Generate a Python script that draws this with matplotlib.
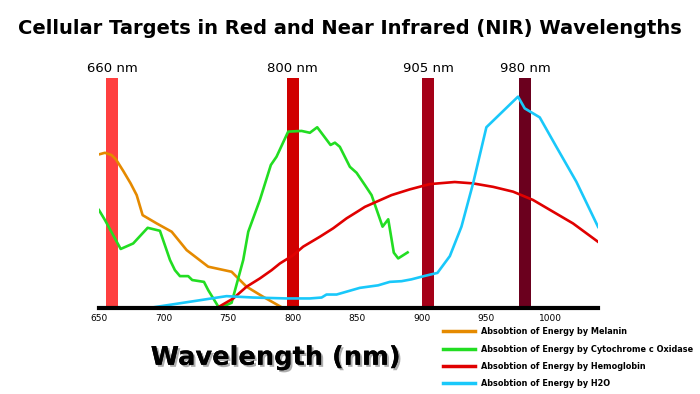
import numpy as np
import matplotlib.pyplot as plt
import matplotlib.patheffects as pe
from matplotlib.lines import Line2D

# wavelengths of the laser bands and their colours
band_nm = [660, 800, 905, 980]
band_colors = ['#ff4040', '#d00000', '#a50018', '#6b001e']

# absorption curves (relative units, band top = 100)
mel_x = [650, 654.6, 659.8, 663.2, 668.8, 674.5, 679.2, 683.8, 694.7, 706.3,
         717.9, 734.6, 752.7, 756.6, 764.3, 777.2, 792.6]
mel_y = [66.8, 67.5, 66.5, 64.6, 59.6, 54.2, 49.1, 40.4, 36.8, 33.2,
         25.2, 18.0, 15.8, 13.6, 9.3, 4.9, 0]

cyt_x = [650, 654.6, 666.8, 676.5, 687.7, 697.2, 705, 708.8, 712.7, 719.1,
         722.2, 731.3, 734.6, 743.1, 752.7, 761.7, 765.6, 774.6, 783.1, 787.5,
         796.5, 806.9, 813.3, 819, 829.3, 832.7, 836.5, 844.3, 849.5, 855.9,
         861.1, 869.6, 874, 878.3, 881.7, 889]
cyt_y = [42.6, 38.3, 25.7, 28.1, 34.9, 33.6, 20.9, 16.5, 13.9, 13.9,
         12.2, 11.4, 7.8, 0, 2.3, 20.9, 33.2, 47, 62.2, 65.8,
         76.7, 77, 76.2, 78.6, 70.9, 71.9, 70.1, 61.4, 58.8, 53.5,
         49.1, 35.4, 38.6, 24.1, 21.6, 24.2]

hem_x = [741.1, 754, 764.3, 774.6, 783.7, 790.1, 800.4, 808.1, 821, 831.4,
         841.7, 852, 855.9, 876.5, 890.7, 906.2, 925.5, 939.7, 955.2, 970.7,
         986.1, 1001.6, 1017.1, 1036.5]
hem_y = [0, 4.2, 9.3, 12.9, 16.5, 19.4, 23, 26.7, 31, 34.7,
         39, 42.6, 44, 49.1, 51.6, 53.9, 54.8, 54.2, 52.7, 50.6,
         47, 41.9, 36.8, 28.8]

h2o_x = [650, 688.2, 748.8, 769.4, 795.3, 813.3, 822.4, 826.2, 834, 852,
         866.2, 875.2, 884.3, 892, 902.3, 912.1, 921.7, 930.7, 939.7, 950,
         974.5, 979.7, 991.3, 1004.2, 1019.7, 1036.5]
h2o_y = [0, 0, 5.2, 4.6, 4.2, 4.2, 4.6, 5.9, 5.9, 8.8,
         9.9, 11.4, 11.7, 12.5, 14, 15.3, 22.6, 35.4, 54.2, 78.6,
         91.9, 86.8, 82.9, 70.1, 54.9, 35.3]

series = [
    (mel_x, mel_y, '#e58a00', 'Absobtion of Energy by Melanin'),
    (cyt_x, cyt_y, '#22dd22', 'Absobtion of Energy by Cytochrome c Oxidase'),
    (hem_x, hem_y, '#e00000', 'Absobtion of Energy by Hemoglobin'),
    (h2o_x, h2o_y, '#19c8fa', 'Absobtion of Energy by H2O'),
]

fig = plt.figure(figsize=(7, 3.94), dpi=100)
ax = fig.add_axes([0.1414, 0.218, 0.713, 0.584])

for nm, c in zip(band_nm, band_colors):
    ax.bar(nm, 100, width=9.5, color=c, zorder=1)
    ax.text(nm, 101.5, f'{nm} nm', ha='center', va='bottom', fontsize=9.5,
            clip_on=False)

for xs, ys, c, lab in series:
    ax.plot(xs, ys, color=c, lw=1.9, zorder=3, solid_joinstyle='round')

ax.set_xlim(650, 1036.5)
ax.set_ylim(0, 100)
ax.set_xticks([650, 700, 750, 800, 850, 900, 950, 1000])
ax.tick_params(axis='x', length=0, labelsize=6.5, pad=4)
ax.set_yticks([])
for s in ['left', 'right', 'top']:
    ax.spines[s].set_visible(False)
ax.spines['bottom'].set_linewidth(3)
ax.spines['bottom'].set_zorder(4)

fig.text(0.5, 0.928, 'Cellular Targets in Red and Near Infrared (NIR) Wavelengths',
         ha='center', va='center', fontsize=14, fontweight='bold')

fig.text(0.394, 0.092, 'Wavelength (nm)', ha='center', va='center',
         fontsize=18.5, fontweight='bold',
         path_effects=[pe.withSimplePatchShadow(offset=(1.5, -1.5),
                                                shadow_rgbFace='#999999',
                                                alpha=0.8),
                       pe.Normal()])

handles = [Line2D([], [], color=c, lw=2.5) for _, _, c, _ in series]
labels = [lab for _, _, _, lab in series]
leg = fig.legend(handles, labels, loc='upper left', bbox_to_anchor=(0.628, 0.178),
                 frameon=False, prop={'size': 5.9, 'weight': 'bold'},
                 handlelength=3.9, labelspacing=1.02, handletextpad=0.8,
                 borderaxespad=0)

plt.savefig('out.png', dpi=100)
